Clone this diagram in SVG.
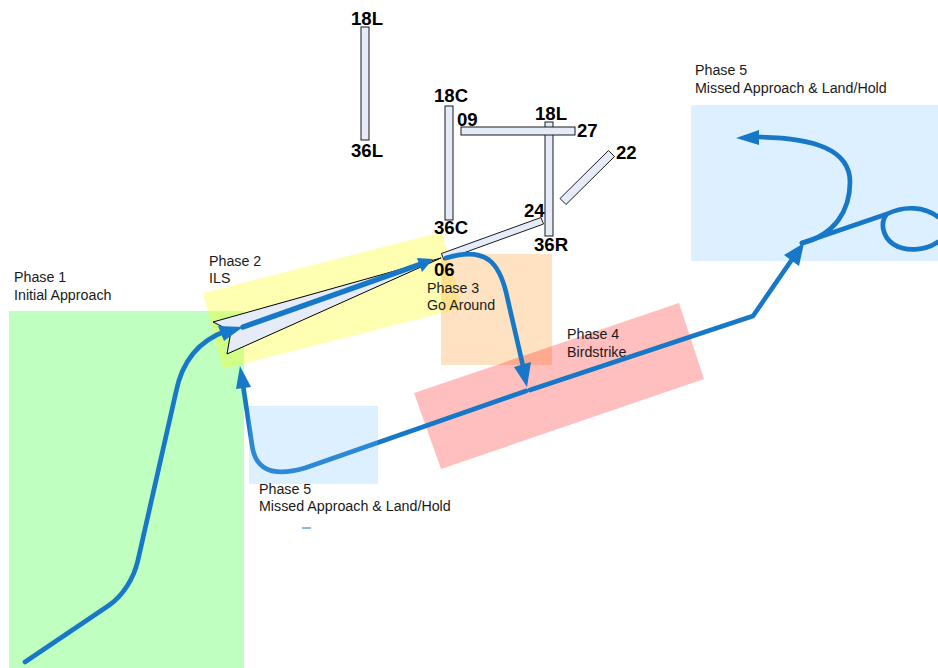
<svg xmlns="http://www.w3.org/2000/svg" width="938" height="668" viewBox="0 0 938 668">
<style>
.lbl{font-family:"Liberation Sans",Arial,sans-serif;font-size:14.25px;fill:#1a1a1a}
.rw{font-family:"Liberation Sans",Arial,sans-serif;font-size:18.6px;font-weight:bold;fill:#000}
.runway{fill:#e6ecf7;stroke:#1a1a1a;stroke-width:1}
.route{fill:none;stroke:#1878c8;stroke-width:4.7;stroke-linecap:round;stroke-linejoin:round}
.head{fill:#1878c8}
</style>
<rect width="938" height="668" fill="#fff"/>
<g id="phase1"><rect x="9" y="311" width="235" height="357" fill="#00ff00" opacity=".25"/><text class="lbl" x="14" y="282">Phase 1</text><text class="lbl" x="14" y="300">Initial Approach</text></g>
<g id="phase2"><polygon points="203,293 442,232 462,308 223,369" fill="#ffff00" opacity=".3"/><text class="lbl" x="209" y="266">Phase 2</text><text class="lbl" x="209" y="283">ILS</text></g>
<g id="phase3"><rect x="441" y="254" width="111" height="111" fill="#ff9f33" opacity=".3"/><text class="lbl" x="427" y="293">Phase 3</text><text class="lbl" x="427" y="310">Go Around</text></g>
<g id="phase4"><polygon points="414,393 679,303 704,379 441,469" fill="#ff0000" opacity=".25"/><text class="lbl" x="567" y="339">Phase 4</text><text class="lbl" x="567" y="357">Birdstrike</text></g>
<g id="phase5-right"><rect x="691" y="105" width="247" height="156" fill="#71c0ff" opacity=".24"/><text class="lbl" x="695" y="75">Phase 5</text><text class="lbl" x="695" y="93">Missed Approach &amp; Land/Hold</text></g>
<g id="runway-18L-36L"><rect class="runway" x="361" y="27" width="8" height="113"/><text class="rw" x="351" y="25">18L</text><text class="rw" x="351" y="157">36L</text></g>
<g id="runway-18C-36C"><rect class="runway" x="445" y="106" width="8" height="114"/><text class="rw" x="434" y="102">18C</text><text class="rw" x="434" y="234">36C</text></g>
<g id="runway-18L-36R"><rect class="runway" x="545" y="122" width="8" height="114"/><text class="rw" x="535" y="120">18L</text><text class="rw" x="534" y="251">36R</text></g>
<g id="runway-09-27"><rect class="runway" x="461" y="127" width="114" height="8"/><text class="rw" x="457" y="126">09</text><text class="rw" x="577" y="137">27</text></g>
<g id="runway-22"><polygon class="runway" points="608.5,150.5 614.5,156.5 566,204.5 560,198.5"/><text class="rw" x="616" y="159">22</text></g>
<g id="runway-06-24"><polygon class="runway" points="441.5,253.5 541,217.5 543.5,224 444,260"/><text class="rw" x="524" y="217">24</text><text class="rw" x="434" y="276">06</text></g>
<g id="aircraft"><polygon points="213,322 441,258 227,354 231,331" fill="#e6ecf7" stroke="#000" stroke-width="1"/></g>
<g id="connectors">
<path class="route" d="M25,662 L108,606 C123,596 134,578 138,560 L176,392 C182,362 198,341 226,331"/>
<polygon class="head" points="243,327 224,341 218,326"/>
<path class="route" style="stroke-width:5.5" d="M243,327 L421,264"/>
<polygon class="head" points="433,259 422,272 417,258"/>
<path class="route" d="M446,258 C462,253 478,252 489,260 C498,267 503,280 506,292 L523,366"/>
<polygon class="head" points="527,387 514,367 531,362"/>
<path class="route" d="M526,391 L305,468 C270,478 255,468 252,445 L243,385"/>
<polygon class="head" points="240,366 251,387 236,389"/>
<path class="route" d="M530,390 L753,316 L793,258"/>
<polygon class="head" points="804,243 799,266 784,255"/>
<path class="route" d="M802,243 L887,214 C905,205 925,207 938,217 M938,242 C925,251 905,252 893,244 C882,236 880,222 887,214"/>
<path class="route" d="M802,243 C835,235 850,210 850,182 C850,150 815,138 759,137"/>
<polygon class="head" points="736,138 759,130 759,145"/>
<rect x="302" y="527.5" width="9" height="1" fill="#1878c8"/>
</g>
<rect id="phase5-left" x="249" y="406" width="129" height="78" fill="#71c0ff" opacity=".24"/>
<text class="lbl" x="259" y="494">Phase 5</text><text class="lbl" x="259" y="511">Missed Approach &amp; Land/Hold</text>
</svg>
